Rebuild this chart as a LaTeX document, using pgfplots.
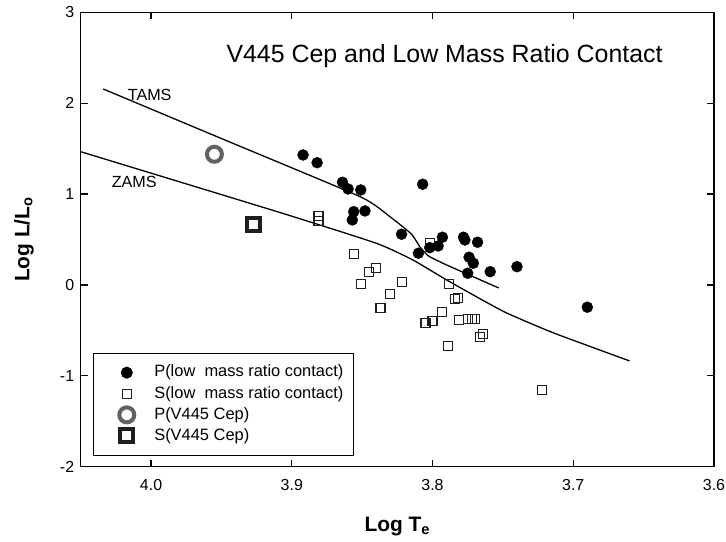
\documentclass[border=0pt]{standalone}
\usepackage{pgfplots}
\pgfplotsset{compat=1.18}
\usepackage{fontspec}
\setmainfont{Liberation Sans}
\definecolor{ringgray}{HTML}{626262}
\definecolor{sqgray}{HTML}{1E1E1E}
\begin{document}
\begin{tikzpicture}
\begin{axis}[
  scale only axis, width=633.3bp, height=454.4bp,
  at={(0,0)}, anchor=south west,
  x dir=reverse, xmin=3.6, xmax=4.05, ymin=-2, ymax=3,
  xtick={3.6,3.7,3.8,3.9,4.0}, ytick={-2,-1,0,1,2,3},
  /pgf/number format/assume math mode=true,
  x tick label style={/pgf/number format/.cd, fixed, fixed zerofill, precision=1, /tikz/.cd, yshift=-9bp},
  y tick label style={xshift=-3bp},
  tick label style={font=\fontsize{16}{19}\selectfont},
  tick align=inside, tick pos=both, major tick length=7bp,
  minor tick num=0,
  axis line style={line width=1.3bp},
  major tick style={line width=1.2bp, black},
  legend style={at={(axis description cs:0.0199,0.0235)}, anchor=south west,
    draw=black, line width=1bp, font=\fontsize{16.5}{19}\selectfont,
    inner xsep=8bp, inner ysep=9bp, row sep=0pt,
    /tikz/every odd column/.style={column sep=14bp},
    nodes={inner ysep=2.8bp, text height=12bp, text depth=3.5bp},
    cells={anchor=west}},
  legend image code/.code={\path (-23bp,0) (9.5bp,0); \draw[#1] plot coordinates {(0,0)};},
]
% legend entries
\addlegendimage{only marks, mark=*, mark size=5.5bp, black}
\addlegendentry{P(low\ \ mass ratio contact)}
\addlegendimage{only marks, mark=square, mark size=4.5bp, line width=1.1bp, sqgray}
\addlegendentry{S(low\ \ mass ratio contact)}
\addlegendimage{only marks, mark=o, mark size=7.5bp, line width=4bp, ringgray}
\addlegendentry{P(V445 Cep)}
\addlegendimage{only marks, mark=square, mark size=6.5bp, line width=4bp, sqgray}
\addlegendentry{S(V445 Cep)}

% TAMS
\addplot[forget plot, black, line width=1.3bp, smooth, tension=0.3] coordinates {
(4.034,2.156) (3.950,1.611) (3.851,0.968) (3.830,0.748) (3.815,0.560)
(3.809,0.420) (3.803,0.320) (3.790,0.220) (3.753,-0.033)};
% ZAMS
\addplot[forget plot, black, line width=1.3bp, smooth, tension=0.3] coordinates {
(4.05,1.466) (3.908,0.795) (3.840,0.459) (3.814,0.275) (3.790,0.055)
(3.766,-0.154) (3.747,-0.311) (3.714,-0.528) (3.660,-0.836)};

% S (low mass ratio contact)
\addplot[forget plot, only marks, mark=square, mark size=4.5bp, line width=1.1bp, sqgray] coordinates {
(3.881,0.759) (3.881,0.704) (3.856,0.338) (3.840,0.184) (3.845,0.140) (3.851,0.008)
(3.822,0.030) (3.830,-0.099) (3.837,-0.250) (3.802,0.465) (3.788,0.008)
(3.784,-0.157) (3.782,-0.146) (3.793,-0.300) (3.800,-0.396) (3.805,-0.421)
(3.781,-0.385) (3.775,-0.377) (3.772,-0.377) (3.770,-0.377)
(3.766,-0.569) (3.764,-0.539) (3.789,-0.671) (3.722,-1.155)};

% P (low mass ratio contact)
\addplot[forget plot, only marks, mark=*, mark size=5.5bp, black] coordinates {
(3.892,1.430) (3.882,1.345) (3.864,1.130) (3.860,1.056) (3.851,1.045)
(3.856,0.806) (3.848,0.814) (3.857,0.715) (3.807,1.108) (3.822,0.558)
(3.810,0.349) (3.802,0.410) (3.796,0.429) (3.793,0.525) (3.778,0.525)
(3.777,0.495) (3.768,0.470) (3.774,0.305) (3.771,0.239) (3.775,0.129)
(3.759,0.146) (3.740,0.201) (3.690,-0.245)};

% V445 Cep
\addplot[forget plot, only marks, mark=o, mark size=7.5bp, line width=4bp, ringgray] coordinates {(3.955,1.438)};
\addplot[forget plot, only marks, mark=square, mark size=6.5bp, line width=4bp, sqgray] coordinates {(3.927,0.668)};

\node[anchor=base west, font=\fontsize{16.2}{19}\selectfont] at (axis cs:4.019,2.024) {TAMS};
\node[anchor=base west, font=\fontsize{16.2}{19}\selectfont] at (axis cs:4.0304,1.070) {ZAMS};
\node[anchor=base west, font=\fontsize{25}{30}\selectfont] at (axis description cs:0.2247,0.889) {V445 Cep and Low Mass Ratio Contact};

\coordinate (xlab) at ([yshift=-64.3bp]axis description cs:0.5,0);
\coordinate (ylab) at ([xshift=-51.4bp]axis description cs:0,0.5);
\end{axis}
\node[anchor=base, font=\bfseries\fontsize{21}{25}\selectfont] at (xlab) {Log T\textsubscript{e}};
\node[anchor=base, rotate=90, font=\bfseries\fontsize{21}{25}\selectfont] at (ylab) {Log L/L\textsubscript{o}};
\pgfresetboundingbox
\path[use as bounding box] (-80.7bp,-75.3bp) rectangle (645.3bp,466.7bp);
\end{tikzpicture}
\end{document}
